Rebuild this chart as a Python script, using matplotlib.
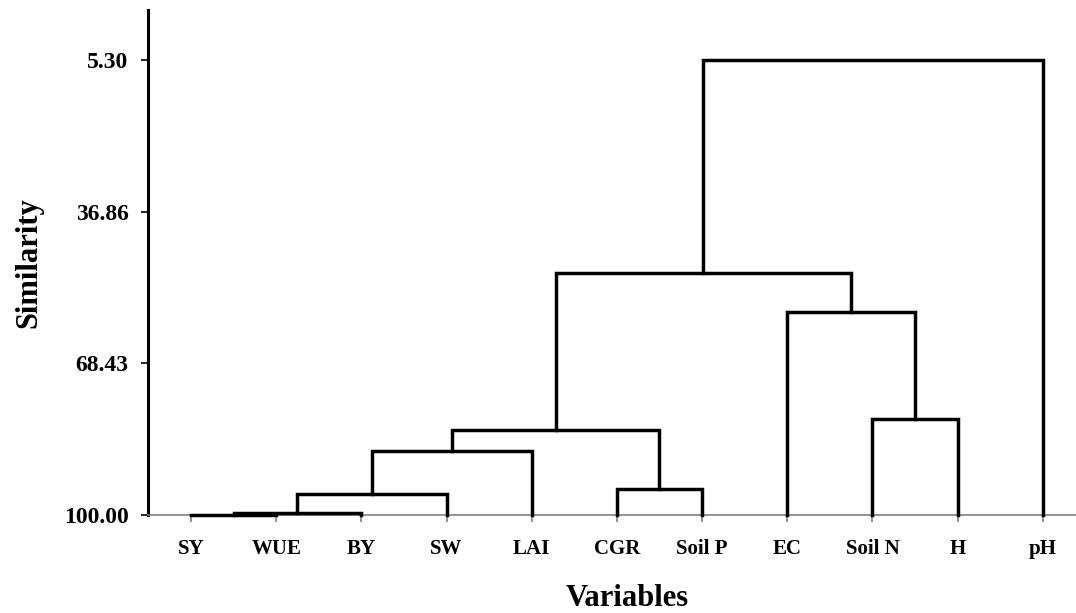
import matplotlib
matplotlib.use("Agg")
import matplotlib.pyplot as plt

# Leaves in dendrogram order
leaves = ["SY", "WUE", "BY", "SW", "LAI", "CGR", "Soil P", "EC", "Soil N", "H", "pH"]
# Merges: (left node, right node, similarity level); new nodes numbered from len(leaves)
merge_left = [0, 11, 12, 13, 5, 14, 8, 7, 16, 19]
merge_right = [1, 2, 3, 4, 6, 15, 9, 17, 18, 10]
merge_level = [99.9, 99.58, 95.63, 86.68, 94.59, 82.31, 80.02, 57.75, 49.63, 5.30]
ytick_values = [5.30, 36.86, 68.43, 100.00]
ytick_labels = ["5.30", "36.86", "68.43", "100.00"]

plt.rcParams["font.family"] = ["Liberation Serif", "DejaVu Serif"]
plt.rcParams["font.weight"] = "bold"

fig = plt.figure(figsize=(10.76, 6.13), dpi=100)
ax = fig.add_axes([148 / 1076, 98 / 613, (1076 - 148) / 1076, 505 / 613])

pos = {i: float(i) for i in range(len(leaves))}
lev = {i: 100.0 for i in range(len(leaves))}
node = len(leaves)
for a, b, h in zip(merge_left, merge_right, merge_level):
    xa, xb = pos[a], pos[b]
    ax.plot([xa, xa, xb, xb], [lev[a], h, h, lev[b]], color="black", lw=2.5,
            solid_joinstyle="miter", clip_on=False, zorder=3)
    pos[node] = (xa + xb) / 2
    lev[node] = h
    node += 1

ax.set_xlim(-0.505, 10.39)
ax.set_ylim(100, -5.1)

ax.spines["top"].set_visible(False)
ax.spines["right"].set_visible(False)
ax.spines["left"].set_linewidth(2.2)
ax.spines["bottom"].set_color("#808080")
ax.spines["bottom"].set_linewidth(1.2)

ax.set_xticks(range(len(leaves)))
ax.set_xticklabels(leaves, fontsize=15, fontweight="bold")
ax.tick_params(axis="x", colors="#808080", length=5, width=1.2, pad=12, labelcolor="black")
ax.set_yticks(ytick_values)
ax.set_yticklabels(ytick_labels, fontsize=17, fontweight="bold")
ax.tick_params(axis="y", length=5, width=1.2, pad=9)

ax.set_xlabel("Variables", fontsize=22, fontweight="bold", labelpad=18)
ax.xaxis.label.set_x(0.516)
ax.set_ylabel("Similarity", fontsize=22, fontweight="bold", labelpad=15)

fig.savefig("out.png", dpi=100)
